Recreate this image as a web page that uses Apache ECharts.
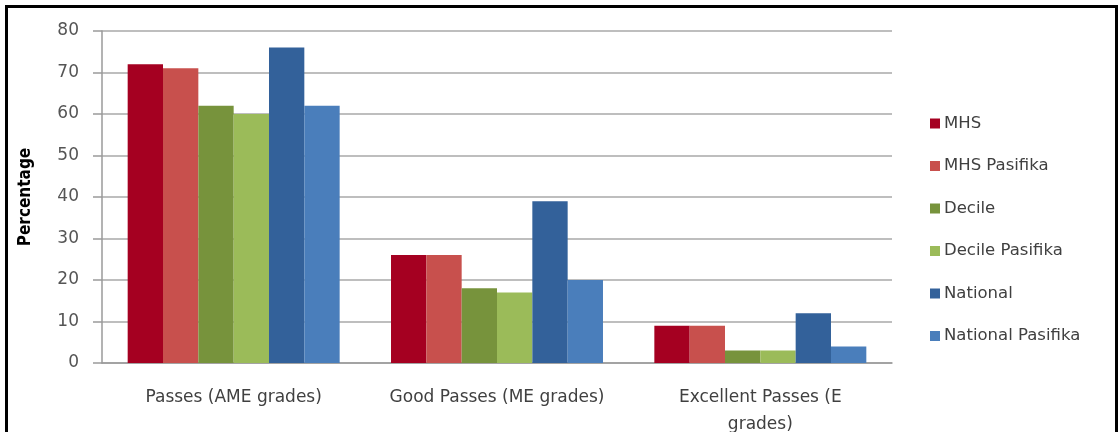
<!DOCTYPE html>
<html>
<head>
<meta charset="utf-8">
<script src="https://cdn.jsdelivr.net/npm/echarts@6/dist/echarts.min.js"></script>
<style>
html,body{margin:0;padding:0;background:#fff;}
#chart{width:1118px;height:432px;}
</style>
</head>
<body>
<div id="chart"></div>
<script>
const categories = ['Passes (AME grades)', 'Good Passes (ME grades)', 'Excellent Passes (E\ngrades)'];
const seriesNames = ['MHS', 'MHS Pasifika', 'Decile', 'Decile Pasifika', 'National', 'National Pasifika'];
const mhs = [72, 26, 9];
const mhsPasifika = [71, 26, 9];
const decile = [62, 18, 3];
const decilePasifika = [60, 17, 3];
const national = [76, 39, 12];
const nationalPasifika = [62, 20, 4];
const colors = ['#A50021', '#C8504D', '#77933C', '#9BBB59', '#33619A', '#4A7EBB'];
const yTicks = [0, 10, 20, 30, 40, 50, 60, 70, 80];

const allData = [mhs, mhsPasifika, decile, decilePasifika, national, nationalPasifika];
const font = 'DejaVu Sans';
const chart = echarts.init(document.getElementById('chart'));
chart.setOption({
  backgroundColor: '#ffffff',
  animation: false,
  color: colors,
  graphic: [{
    type: 'rect',
    shape: { x: 6.5, y: 6.5, width: 1110, height: 500 },
    style: { fill: 'none', stroke: '#000', lineWidth: 3 },
    silent: true, z: 100
  }],
  grid: { left: 102, right: 226, top: 31, bottom: 69, containLabel: false, outerBoundsMode: 'none' },
  legend: {
    orient: 'vertical',
    left: 925,
    top: 110,
    itemWidth: 10,
    itemHeight: 10,
    itemGap: 25.5,
    icon: 'rect',
    textStyle: { fontFamily: font, fontSize: 16.5, color: '#404040', padding: [0, 0, 0, -1] },
    data: seriesNames
  },
  xAxis: {
    type: 'category',
    data: categories,
    axisLine: { lineStyle: { color: '#9a9a9a', width: 1.5 } },
    axisTick: { show: false },
    axisLabel: { fontFamily: font, fontSize: 17, color: '#404040', margin: 21, lineHeight: 27, interval: 0 }
  },
  yAxis: {
    type: 'value',
    min: 0, max: 80, interval: 10,
    name: 'Percentage',
    nameLocation: 'middle',
    nameGap: 68,
    nameTextStyle: { fontFamily: 'DejaVu Sans Condensed', fontSize: 17, fontWeight: 'bold', color: '#000' },
    axisLine: { show: true, lineStyle: { color: '#9a9a9a', width: 1.5 } },
    axisTick: { show: true, length: 9, lineStyle: { color: '#9a9a9a', width: 1.5 } },
    splitLine: { lineStyle: { color: '#a8a8a8', width: 1.5 } },
    axisLabel: {
      fontFamily: font, fontSize: 17, color: '#555', margin: 23,
      formatter: function (v) { return yTicks.indexOf(v) >= 0 ? String(v) : ''; }
    }
  },
  series: seriesNames.map(function (n, i) {
    return {
      name: n, type: 'bar', data: allData[i],
      barGap: '0%', barCategoryGap: '19.5%'
    };
  })
});
</script>
</body>
</html>
